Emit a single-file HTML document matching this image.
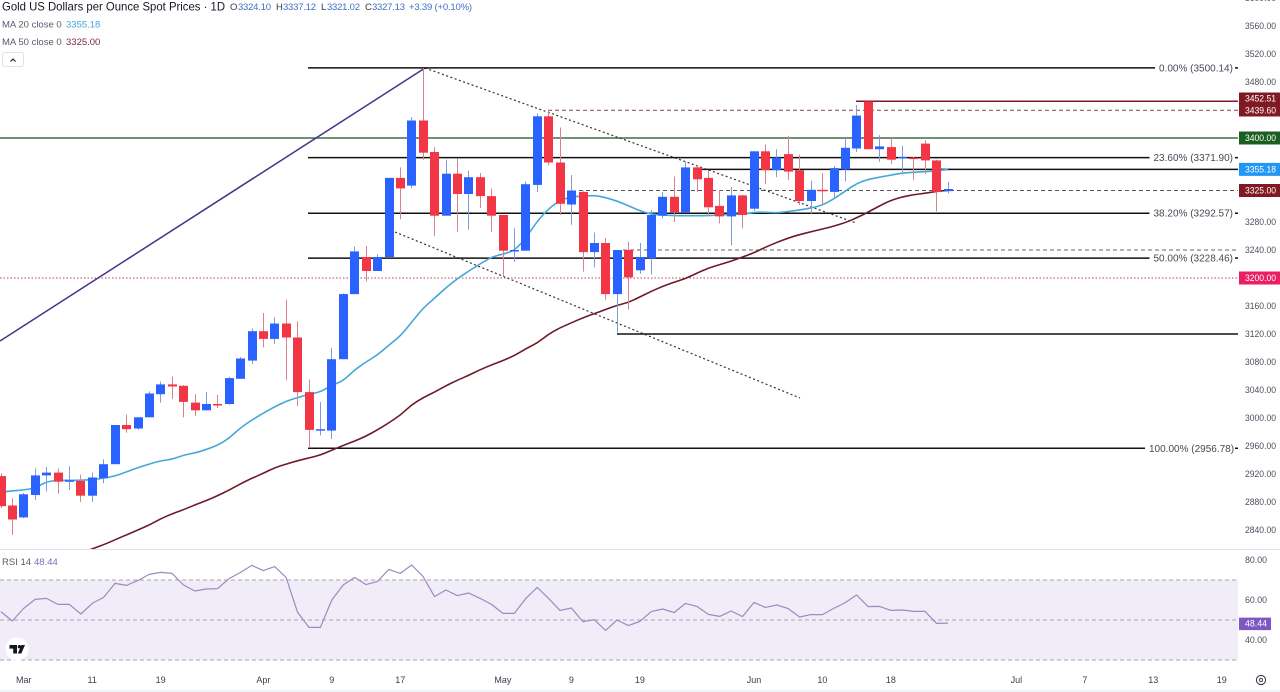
<!DOCTYPE html>
<html lang="en">
<head>
<meta charset="utf-8">
<title>Gold US Dollars per Ounce Spot Prices</title>
<style>
html,body{margin:0;padding:0;background:#fff;width:1280px;height:692px;overflow:hidden}
svg{display:block;font-family:"Liberation Sans",Arial,sans-serif}
</style>
</head>
<body>
<svg id="chart" xmlns="http://www.w3.org/2000/svg" width="1280" height="692" viewBox="0 0 1280 692">
  <defs>
    <clipPath id="main-clip"><rect x="0" y="0" width="1238" height="549"></rect></clipPath>
  </defs>
  <rect x="0" y="0" width="1280" height="692" fill="#ffffff"></rect>
  <rect x="0" y="580" width="1238" height="80" fill="#f0edf9"></rect>
  <g id="main-drawings" clip-path="url(#main-clip)"></g>
  <g id="ma-lines" clip-path="url(#main-clip)"></g>
  <g id="candles" clip-path="url(#main-clip)"></g>
  <g id="price-axis"></g>
  <g id="badges"></g>
  <g id="rsi-pane"></g>
  <g id="time-axis"></g>
  <line x1="0" y1="549.5" x2="1280" y2="549.5" stroke="#e0e3eb" stroke-width="1"></line>
  <rect x="0" y="690" width="1280" height="2" fill="#f0f1f3"></rect>

  <g>
    <text x="2" y="10.5" font-size="12" fill="#131722" textLength="223" lengthAdjust="spacingAndGlyphs">Gold US Dollars per Ounce Spot Prices · 1D</text>
    <text x="230" y="10" font-size="9.5" fill="#333a4a">O</text>
    <text x="238" y="10" font-size="9.5" fill="#3f6fc4" textLength="33">3324.10</text>
    <text x="276" y="10" font-size="9.5" fill="#333a4a">H</text>
    <text x="283" y="10" font-size="9.5" fill="#3f6fc4" textLength="33">3337.12</text>
    <text x="321" y="10" font-size="9.5" fill="#333a4a">L</text>
    <text x="327" y="10" font-size="9.5" fill="#3f6fc4" textLength="33">3321.02</text>
    <text x="365" y="10" font-size="9.5" fill="#333a4a">C</text>
    <text x="372" y="10" font-size="9.5" fill="#3f6fc4" textLength="33">3327.13</text>
    <text x="409" y="10" font-size="9.5" fill="#3f6fc4" textLength="63">+3.39 (+0.10%)</text>
    <text x="2" y="27.5" font-size="9.5" fill="#555c6b">MA 20 close 0</text>
    <text x="66" y="27.5" font-size="9.5" fill="#42a5dc">3355.18</text>
    <text x="2" y="45" font-size="9.5" fill="#555c6b">MA 50 close 0</text>
    <text x="66" y="45" font-size="9.5" fill="#7f2a3a">3325.00</text>
    <rect x="2.5" y="52.5" width="21" height="14" rx="2" fill="#ffffff" stroke="#e0e3eb"></rect>
    <path d="M10.5 61.5 L13 59 L15.5 61.5" fill="none" stroke="#131722" stroke-width="1.1"></path>
    <text x="2" y="565" font-size="9.5" fill="#555c6b">RSI 14</text>
    <text x="34" y="565" font-size="9.5" fill="#7e6bb8">48.44</text>
  </g>

  <g>
    <circle cx="17" cy="649" r="11.5" fill="#ffffff"></circle>
    <path d="M9.5 645 H17 V653.5 H13.2 V648.6 H9.5 Z M21.4 645 H25 L21.3 653.5 H17.8 Z" fill="#131722"></path>
    <circle cx="19.4" cy="646.7" r="1.7" fill="#131722"></circle>
  </g>

  <g>
    <circle cx="1261" cy="680" r="4.6" fill="none" stroke="#3a3f4b" stroke-width="1.1"></circle>
    <circle cx="1261" cy="680" r="1.6" fill="none" stroke="#3a3f4b" stroke-width="1"></circle>
  </g>
</svg>

<script>
// ---------- chart data ----------
const opens  = [2917,2875,2858,2890,2918,2922,2910,2910,2889,2914,2934,2990,2985,3001,3034,3048,3046,3022,3011,3020,3020,3056,3082,3124,3113,3135,3115,3037,2983,2982,3084,3177,3230,3210,3230,3343,3332,3425,3380,3289,3349,3320,3344,3317,3290,3239,3239,3333,3431,3365,3305,3323,3237,3250,3177,3240,3211,3228,3289,3316,3294,3358,3343,3303,3288,3318,3299,3381,3354,3377,3354,3310,3326,3323,3355,3385,3452,3384,3387,3371,3372,3392,3368,3324.10];
const highs  = [2921,2885,2893,2928,2930,2928,2931,2919,2922,2941,2990,3005,3001,3038,3052,3059,3047,3034,3037,3033,3059,3087,3128,3150,3144,3169,3138,3055,3023,3100,3178,3245,3246,3234,3343,3358,3430,3500,3387,3369,3371,3353,3350,3328,3290,3271,3338,3435,3440,3415,3347,3324,3265,3257,3240,3252,3250,3297,3323,3345,3366,3361,3354,3326,3330,3319,3381,3391,3384,3403,3376,3339,3350,3360,3400,3447,3452.5,3404,3400,3389,3373,3397,3369,3337.12];
const lows   = [2871,2833,2857,2883,2895,2892,2897,2880,2880,2907,2934,2979,2983,3001,3022,3027,3001,3003,3011,3014,3019,3056,3077,3101,3106,3054,3017,2957,2975,2970,3084,3177,3195,3210,3230,3284,3328,3369,3260,3289,3266,3269,3300,3266,3202,3223,3239,3323,3361,3290,3276,3209,3215,3169,3122,3155,3206,3205,3285,3280,3294,3323,3288,3278,3247,3271,3296,3334,3344,3340,3304,3292,3304,3314,3338,3380,3384,3366,3363,3350,3340,3349,3295,3321.02];
const closes = [2874,2855,2891,2918,2922,2909,2911,2889,2915,2934,2990,2984,3001,3035,3048,3045,3023,3011,3020,3019,3057,3085,3124,3113,3135,3115,3037,2983,2984,3084,3177,3238,3210,3230,3343,3328,3425,3379,3289,3349,3320,3344,3317,3289,3239,3240,3334,3431,3365,3306,3325,3237,3250,3177,3240,3201,3230,3290,3316,3294,3358,3341,3301,3288,3318,3290,3381,3354,3372,3352,3310,3326,3324,3357,3386,3432,3384,3388,3369,3373,3370,3368,3323,3327.13];
const ma20   = [2894,2896,2897,2900,2909,2911,2911,2911,2912,2914,2917,2923,2929,2934,2939,2941,2947,2950,2955,2961,2971,2986,2997,3007,3016,3024,3029,3034,3037,3047,3053,3069,3080,3090,3104,3117,3137,3157,3171,3186,3199,3210,3220,3230,3234,3239,3257,3281,3299,3311,3316,3317,3318,3315,3310,3303,3296,3291,3290,3289,3289,3289,3289,3290,3291,3291,3294,3294,3293,3295,3297,3300,3304,3313,3324,3335,3341,3344,3347,3350,3351,3352,3353,3355.18];
const ma50   = [2769,2774,2780,2786,2791,2796,2802,2807,2813,2819,2826,2833,2840,2847,2856,2863,2869,2876,2882,2889,2897,2906,2914,2921,2929,2934,2939,2943,2947,2954,2961,2967,2974,2983,2993,3004,3019,3029,3037,3046,3054,3061,3069,3076,3082,3089,3099,3107,3120,3129,3136,3143,3149,3155,3161,3165,3173,3181,3188,3194,3199,3207,3214,3219,3224,3230,3236,3244,3251,3257,3262,3266,3270,3274,3279,3286,3294,3303,3311,3316,3319,3321,3324,3325];
const rsi14  = [54.2,49.5,55.8,60.3,60.8,57.8,57.8,53,58.3,61.3,68.3,67.3,69.7,72.8,73.8,73.3,67.5,64.5,65.5,65.7,70.7,73.8,77.3,74.7,76.7,71.3,53.8,46.3,46.3,60,67.5,71.3,67.7,69.2,75.3,73.3,77.5,71.7,61.7,65,62.2,63.5,60.8,57.8,53.3,53.3,60.8,66.3,60.8,54.8,56,49.2,50.2,44.8,50,47.2,49.3,54.2,55.5,53.7,58.3,56.8,52.8,51.8,54.5,51.7,58.8,56.3,57.5,55.7,51.5,52.7,52.7,55.8,58.7,62.5,56.7,56.8,54.8,55,54.3,54.3,48.3,48.44];

const priceTicks = [3600,3560,3520,3480,3280,3240,3160,3120,3080,3040,3000,2960,2920,2880,2840];
const rsiTicks = [80,60,40];
const rsiBands = [70,50,30];
const timeLabels = ["Mar","11","19","Apr","9","17","May","9","19","Jun","10","18","Jul","7","13","19"];
const timeIndexes = [2,8,14,23,29,35,44,50,56,66,72,78,89,95,101,107];

const fibPercents = ["0.00%","23.60%","38.20%","50.00%","100.00%"];
const fibPrices = [3500.14,3371.90,3292.57,3228.46,2956.78];

const badgePrices = [3400,3355.18,3325,3200];
const badgeLabels = ["3400.00","3355.18","3325.00","3200.00"];
const badgeColors = ["#1b5e20","#2196f3","#7f1a22","#e91e63"];

const resistancePrice = 3452.51;
const dashedPriceA = 3439.60;
const dashedPriceB = 3325;
const dashedPriceC = 3240;
const supportPrice = 3120;
const ma20LinePrice = 3355.18;
const greenLinePrice = 3400;
const pinkLinePrice = 3200;

// ---------- axis functions ----------
function xOf(i){ return 0.9 + 11.41 * i; }
function yOf(p){ return 138 + (3400 - p) * 0.7; }
function rsiY(r){ return 720 - 2 * r; }

const NS = "http://www.w3.org/2000/svg";
function make(tag, parent, attrs){
  const el = document.createElementNS(NS, tag);
  for (const k in attrs) el.setAttribute(k, attrs[k]);
  parent.appendChild(el);
  return el;
}

// ---------- drawings ----------
const dr = document.getElementById("main-drawings");

let el = make("line", dr, {x1:0, x2:1238, y1:yOf(greenLinePrice), y2:yOf(greenLinePrice), stroke:"#3f6f45", "stroke-width":1.5});



el = make("line", dr, {x1:0, x2:1238, y1:yOf(pinkLinePrice), y2:yOf(pinkLinePrice), stroke:"#c0405f", "stroke-width":1.1, "stroke-dasharray":"1.5 2"});



el = make("line", dr, {x1:856, x2:1238, y1:yOf(resistancePrice), y2:yOf(resistancePrice), stroke:"#7f1a2a", "stroke-width":1.5});



el = make("line", dr, {x1:548, x2:1238, y1:yOf(dashedPriceA), y2:yOf(dashedPriceA), stroke:"#7a4a50", "stroke-width":1, "stroke-dasharray":"4 3"});



el = make("line", dr, {x1:579, x2:1238, y1:yOf(dashedPriceB), y2:yOf(dashedPriceB), stroke:"#555555", "stroke-width":1, "stroke-dasharray":"4 3"});



el = make("line", dr, {x1:623, x2:1238, y1:yOf(dashedPriceC), y2:yOf(dashedPriceC), stroke:"#666666", "stroke-width":1, "stroke-dasharray":"4 3"});



el = make("line", dr, {x1:697, x2:1238, y1:yOf(ma20LinePrice), y2:yOf(ma20LinePrice), stroke:"#111111", "stroke-width":1.5});



el = make("line", dr, {x1:617, x2:1238, y1:yOf(supportPrice), y2:yOf(supportPrice), stroke:"#111111", "stroke-width":1.5});



el = make("line", dr, {x1:0, y1:341, x2:425, y2:68, stroke:"#4a2f86", "stroke-width":1.5});



el = make("line", dr, {x1:425, y1:68, x2:856, y2:223, stroke:"#333333", "stroke-width":1.2, "stroke-dasharray":"2 2.5"});



el = make("line", dr, {x1:395, y1:232, x2:800, y2:398, stroke:"#333333", "stroke-width":1.2, "stroke-dasharray":"2 2.5"});



// fib lines and labels
const fibLabelX = [1159,1153.5,1153.5,1153.5,1149];
fibPrices.forEach(function(p, k){
  const txt = fibPercents[k] + " (" + p.toFixed(2) + ")";
  const y = yOf(p);
  let line = make("line", dr, {x1:308, x2:fibLabelX[k]-4, y1:y, y2:y, stroke:"#111111", "stroke-width":1.5});
  
  
  let tail = make("line", dr, {x1:1235, x2:1238, y1:y, y2:y, stroke:"#111111", "stroke-width":1.5});
  
  
  let t = make("text", dr, {x:fibLabelX[k], y:y+3.5, "font-size":10, fill:"#444a55"});
  t.textContent = txt;
  
  
});

// ---------- moving averages ----------
function polyPoints(arr, yFn){
  return arr.map(function(v, i){ return xOf(i).toFixed(1) + "," + yFn(v).toFixed(1); }).join(" ");
}
function smoothPath(arr, yFn){
  let d = "M" + xOf(0).toFixed(1) + " " + yFn(arr[0]).toFixed(1);
  for (let i = 1; i < arr.length - 1; i++) {
    const mx = (xOf(i) + xOf(i + 1)) / 2;
    const my = (yFn(arr[i]) + yFn(arr[i + 1])) / 2;
    d += " Q" + xOf(i).toFixed(1) + " " + yFn(arr[i]).toFixed(1) + " " + mx.toFixed(1) + " " + my.toFixed(1);
  }
  const last = arr.length - 1;
  d += " L" + xOf(last).toFixed(1) + " " + yFn(arr[last]).toFixed(1);
  return d;
}
const maG = document.getElementById("ma-lines");
el = make("path", maG, {d:smoothPath(ma20, yOf), fill:"none", stroke:"#45a7d8", "stroke-width":1.6, "stroke-linejoin":"round"});


el = make("path", maG, {d:smoothPath(ma50, yOf), fill:"none", stroke:"#6d1b28", "stroke-width":1.6, "stroke-linejoin":"round"});



// ---------- candles ----------
const cG = document.getElementById("candles");
opens.forEach(function(o, i){
  const c = closes[i], up = c >= o;
  const left = Math.round(xOf(i) - 4.3);
  const top = yOf(Math.max(o, c)), bot = yOf(Math.min(o, c));
  const wick = make("rect", cG, {x:left+4, y:yOf(highs[i]), width:1, height:Math.max(0.5, yOf(lows[i])-yOf(highs[i])), fill: up ? "#7f9bd8" : "#d9828c"});
  
  
  const body = make("rect", cG, {x:left, y:top, width:9, height:Math.max(1.5, bot-top), fill: up ? "#2962ff" : "#f23645"});
  
  
});

// ---------- price axis ----------
const paG = document.getElementById("price-axis");
priceTicks.forEach(function(p){
  const t = make("text", paG, {x:1245, y:yOf(p)+3, "font-size":9, fill:"#4a4f5c", textLength:31, lengthAdjust:"spacingAndGlyphs"});
  t.textContent = p.toFixed(2);
  
  
});

// ---------- badges ----------
const bG = document.getElementById("badges");
el = make("rect", bG, {x:1239, y:92.5, width:41, height:24, fill:"#7f1a22"});


el = make("text", bG, {x:1245, y:101.5, "font-size":9, fill:"#ffffff", textLength:31, lengthAdjust:"spacingAndGlyphs"});
el.textContent = resistancePrice.toFixed(2);


el = make("text", bG, {x:1245, y:113.5, "font-size":9, fill:"#ffffff", textLength:31, lengthAdjust:"spacingAndGlyphs"});
el.textContent = dashedPriceA.toFixed(2);



badgePrices.forEach(function(p, k){
  const y = yOf(p);
  const r = make("rect", bG, {x:1239, y:y-6.5, width:41, height:13, fill:badgeColors[k]});
  
  
  const t = make("text", bG, {x:1245, y:y+3.2, "font-size":9, fill:"#ffffff", textLength:31, lengthAdjust:"spacingAndGlyphs"});
  t.textContent = badgeLabels[k];
  
  
});

// ---------- RSI pane ----------
const rG = document.getElementById("rsi-pane");
rsiBands.forEach(function(r){
  const l = make("line", rG, {x1:0, x2:1238, y1:rsiY(r), y2:rsiY(r), stroke:"#a9a5b2", "stroke-width":1, "stroke-dasharray":"4 3"});
  
  
});
el = make("polyline", rG, {points:polyPoints(rsi14, rsiY), fill:"none", stroke:"#9a8dbd", "stroke-width":1.2, "stroke-linejoin":"round"});


rsiTicks.forEach(function(r){
  const t = make("text", rG, {x:1245, y:rsiY(r)+3, "font-size":9, fill:"#4a4f5c", textLength:22, lengthAdjust:"spacingAndGlyphs"});
  t.textContent = r.toFixed(2);
  
  
});
const rsiLast = rsi14[rsi14.length - 1];
el = make("rect", rG, {x:1239, y:rsiY(rsiLast)-5.5, width:32, height:12.5, fill:"#7e57c2"});


el = make("text", rG, {x:1245, y:rsiY(rsiLast)+3.5, "font-size":9, fill:"#ffffff", textLength:22, lengthAdjust:"spacingAndGlyphs"});
el.textContent = rsiLast.toFixed(2);



// ---------- time axis ----------
const tG = document.getElementById("time-axis");
timeLabels.forEach(function(lbl, k){
  const t = make("text", tG, {x:xOf(timeIndexes[k]), y:683, "font-size":9, fill:"#3a3f4b", "text-anchor":"middle"});
  t.textContent = lbl;
  
  
});
</script>
</body>
</html>
